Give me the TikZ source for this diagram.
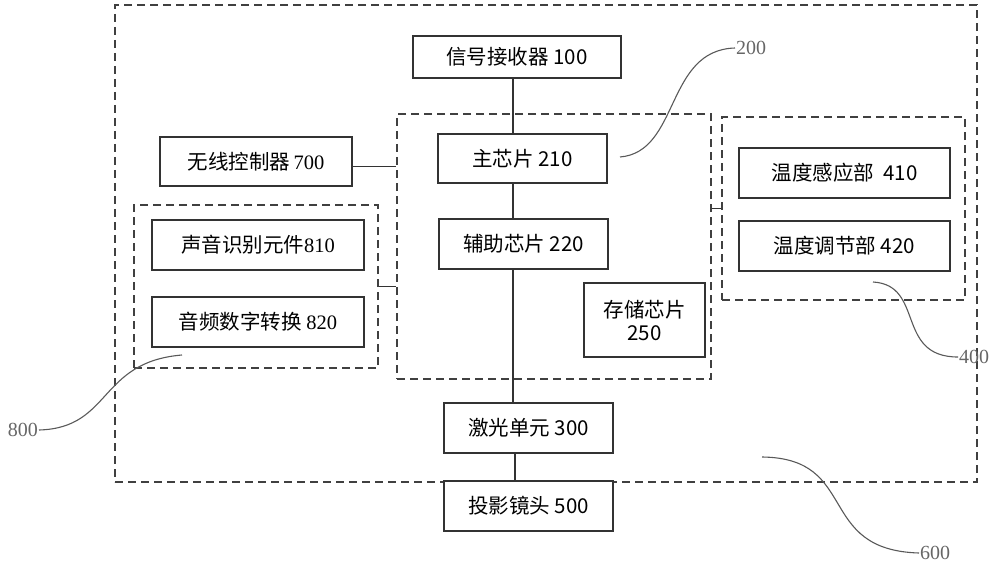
\documentclass[tikz,border=0pt]{standalone}
\usepackage{fontspec}
\setmainfont{Noto Sans CJK SC}
\newfontfamily\serifnum{Liberation Serif}
\begin{document}
\begin{tikzpicture}[x=1pt,y=-1pt,
  box/.style={draw=black!80, line width=1.3pt, rectangle, inner sep=0pt, font=\fontsize{20.5}{24}\selectfont, align=center},
  dbox/.style={draw=black!75, line width=1.2pt, dash pattern=on 8pt off 5pt, rectangle, inner sep=0pt},
  conn/.style={draw=black!80, line width=1.2pt},
  leader/.style={draw=black!65, line width=1.1pt},
  lbl/.style={font=\serifnum\fontsize{20}{22}\selectfont, text=black!60, inner sep=1pt}]
\useasboundingbox (0,0) rectangle (1000,567);
% dashed groups
\node[dbox, minimum width=862, minimum height=477] (n600) at (546,243.5) {};
\node[dbox, minimum width=314, minimum height=265] (n200) at (554,246.5) {};
\node[dbox, minimum width=244, minimum height=163] (n800) at (256,286.5) {};
\node[dbox, minimum width=243, minimum height=183] (n400) at (843.5,208.5) {};
% boxes
\node[box, fill=white, minimum width=208, minimum height=42] (n100) at (517,57) {信号接收器 100};
\node[box, minimum width=169, minimum height=49] (n210) at (522.5,158.5) {主芯片 210};
\node[box, minimum width=169, minimum height=50] (n220) at (523.5,244) {辅助芯片 220};
\node[box, minimum width=121, minimum height=74] (n250) at (644.5,320) {存储芯片\\[-1pt]250};
\node[box, fill=white, minimum width=169, minimum height=50] (n300) at (528.5,428) {激光单元 300};
\node[box, fill=white, minimum width=169, minimum height=50] (n500) at (528.5,506) {投影镜头 500};
\node[box, minimum width=192, minimum height=49] (n700) at (256,161.5) {无线控制器\,{\serifnum 700}};
\node[box, minimum width=212, minimum height=50] (n810) at (258,245) {声音识别元件{\serifnum 810}};
\node[box, minimum width=212, minimum height=50] (n820) at (258,322) {音频数字转换 {\serifnum 820}};
\node[box, minimum width=211, minimum height=50] (n410) at (844.5,173) {温度感应部\ \ 410};
\node[box, minimum width=211, minimum height=50] (n420) at (844.5,246) {温度调节部 420};
% connectors
\coordinate (vx) at (513,0);
\draw[conn] (n100.south -| vx) -- (n210.north -| vx);
\draw[conn] (n210.south -| vx) -- (n220.north -| vx);
\draw[conn] (n220.south -| vx) -- (n300.north -| vx);
\draw[conn] (n300.south -| 515,0) -- (n500.north -| 515,0);
\draw[conn] ([yshift=-5pt]n700.east) -- ([yshift=-5pt]n700.east -| n200.west);
\draw[conn] (n800.east) -- (n800.east -| n200.west);
\draw[conn] (n400.west) -- (n400.west -| n200.east);
% leader labels
\node[lbl, anchor=west] (l200) at (735,48) {200};
\node[lbl, anchor=west] (l400) at (958,357) {400};
\node[lbl, anchor=east] (l800) at (39,430) {800};
\node[lbl, anchor=west] (l600) at (919,553) {600};
\draw[leader] (620,157) .. controls (680,152) and (665,50) .. (l200.west);
\draw[leader] (873,282) .. controls (925,285) and (895,357) .. (l400.west);
\draw[leader] (l800.east) .. controls (112,428) and (98,362) .. (182,355);
\draw[leader] (762,457) .. controls (860,458) and (815,550) .. (l600.west);
\end{tikzpicture}
\end{document}
